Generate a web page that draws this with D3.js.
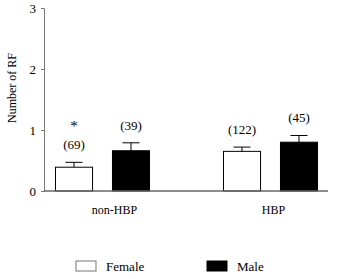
<!DOCTYPE html>
<html lang="en">
<head>
  <meta charset="UTF-8" />
  <title>Number of RF</title>
  <script src="https://d3js.org/d3.v7.min.js"></script>
  <style>
    body { margin: 0; background: #fff; }
    svg { display: block; }
    svg text { font-family: "Liberation Serif", "DejaVu Serif", serif; fill: #000; }
  </style>
</head>
<body>
  <svg id="chart" width="349" height="279"></svg>
  <script>
    const groups = ["non-HBP", "HBP"];
    const sexes = ["Female", "Male"];
    const means = [[0.39, 0.66], [0.65, 0.80]];
    const errors = [[0.08, 0.13], [0.07, 0.11]];
    const counts = [["(69)", "(39)"], ["(122)", "(45)"]];
    const yTicks = [0, 1, 2, 3];

    const svg = d3.select("#chart");
    const fill = { Female: "#fff", Male: "#000" };

    const y = d3.scaleLinear().domain([0, 3]).range([191, 8]);
    const xGroup = d3.scalePoint().domain(groups).range([102.5, 270.5]);
    const xSex = d3.scaleBand().domain(sexes).range([-47, 47]).paddingInner(0.35);

    const rows = [];
    groups.forEach((g, i) => sexes.forEach((s, j) => {
      rows.push({ group: g, sex: s, mean: means[i][j], err: errors[i][j], n: counts[i][j] });
    }));

    // y axis
    const yAxis = svg.append("g")
      .attr("transform", "translate(44,0)")
      .call(d3.axisLeft(y).tickValues(yTicks).tickFormat(d3.format("d")).tickSize(3).tickPadding(5));
    yAxis.attr("font-family", null);
    yAxis.select(".domain").attr("stroke", "#777");
    yAxis.selectAll(".tick line").attr("stroke", "#777");
    yAxis.selectAll("text").attr("font-size", 13);

    svg.append("text")
      .attr("transform", "translate(16,88) rotate(-90)")
      .attr("text-anchor", "middle")
      .attr("font-size", 12)
      .text("Number of RF");

    const barX = d => xGroup(d.group) + xSex(d.sex);

    svg.append("g").selectAll("rect")
      .data(rows)
      .join("rect")
      .attr("x", barX)
      .attr("y", d => y(d.mean))
      .attr("width", xSex.bandwidth())
      .attr("height", d => y(0) - y(d.mean))
      .attr("fill", d => fill[d.sex])
      .attr("stroke", "#000")
      .attr("stroke-width", 1);

    // error bars
    const eb = svg.append("g").attr("stroke", "#000").attr("stroke-width", 1);
    eb.selectAll("line.v")
      .data(rows)
      .join("line")
      .attr("class", "v")
      .attr("x1", d => barX(d) + xSex.bandwidth() / 2)
      .attr("x2", d => barX(d) + xSex.bandwidth() / 2)
      .attr("y1", d => y(d.mean))
      .attr("y2", d => y(d.mean + d.err));
    eb.selectAll("line.cap")
      .data(rows)
      .join("line")
      .attr("class", "cap")
      .attr("x1", d => barX(d) + xSex.bandwidth() / 2 - 8.5)
      .attr("x2", d => barX(d) + xSex.bandwidth() / 2 + 8.5)
      .attr("y1", d => y(d.mean + d.err))
      .attr("y2", d => y(d.mean + d.err));

    // x axis baseline
    svg.append("line")
      .attr("x1", 44).attr("x2", 328)
      .attr("y1", y(0)).attr("y2", y(0))
      .attr("stroke", "#666").attr("stroke-width", 1.5);

    // counts
    svg.append("g").selectAll("text")
      .data(rows)
      .join("text")
      .attr("x", d => barX(d) + xSex.bandwidth() / 2)
      .attr("y", d => y(d.mean + d.err) - 13)
      .attr("text-anchor", "middle")
      .attr("font-size", 13)
      .text(d => d.n);

    svg.append("text")
      .attr("x", barX(rows[0]) + xSex.bandwidth() / 2)
      .attr("y", 131)
      .attr("text-anchor", "middle")
      .attr("font-size", 15)
      .text("*");

    svg.append("g").selectAll("text")
      .data(groups)
      .join("text")
      .attr("x", (d, i) => xGroup(d) + (i === 0 ? 12 : 3))
      .attr("y", 214)
      .attr("text-anchor", "middle")
      .attr("font-size", 12)
      .text(d => d);

    // legend
    const legend = svg.append("g").selectAll("g")
      .data(sexes)
      .join("g")
      .attr("transform", (d, i) => `translate(${76 + i * 131},261)`);
    legend.append("rect")
      .attr("width", 20).attr("height", 10)
      .attr("fill", d => fill[d])
      .attr("stroke", d => d === "Female" ? "#777" : "#000");
    legend.append("text")
      .attr("x", 30).attr("y", 9.5)
      .attr("font-size", 13)
      .text(d => d);
  </script>
</body>
</html>
